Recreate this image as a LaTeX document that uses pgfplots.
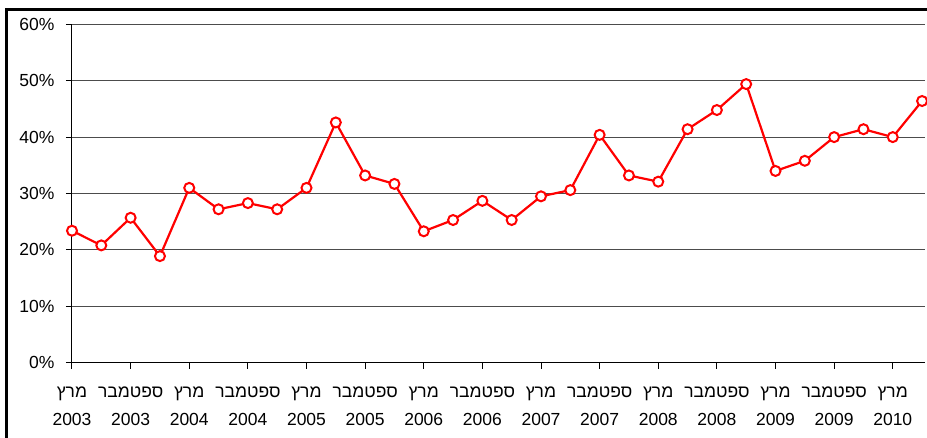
\documentclass[border=0pt]{standalone}
\usepackage{pgfplots}
\pgfplotsset{compat=1.18}
\usepackage{pgfplotstable}
\usepackage{fontspec}
\setmainfont{Liberation Sans}
\newfontfamily\hebfont[Script=Hebrew]{Liberation Sans}
\TeXXeTstate=1
\newcommand\heb[1]{{\hebfont\beginR #1\endR}}

% quarterly share, March 2003 -- June 2010
\pgfplotstableread{
q share
0 23.4
1 20.8
2 25.7
3 18.9
4 31.0
5 27.2
6 28.3
7 27.2
8 31.0
9 42.6
10 33.2
11 31.7
12 23.3
13 25.3
14 28.7
15 25.3
16 29.5
17 30.6
18 40.4
19 33.2
20 32.1
21 41.4
22 44.8
23 49.4
24 34.0
25 35.8
26 40.0
27 41.4
28 40.0
29 46.4
}\rates

\begin{document}
\begin{tikzpicture}
\begin{axis}[
  at={(0,0)}, anchor=south west,
  scale only axis, width=853bp, height=338.4bp,
  xmin=0, xmax=29.1, ymin=0, ymax=60,
  axis lines*=left,
  axis line style={black, line width=1bp},
  clip=false,
  xtick={0,2,...,28},
  xticklabels={
    {\heb{מרץ}\\2003},{\heb{ספטמבר}\\2003},
    {\heb{מרץ}\\2004},{\heb{ספטמבר}\\2004},
    {\heb{מרץ}\\2005},{\heb{ספטמבר}\\2005},
    {\heb{מרץ}\\2006},{\heb{ספטמבר}\\2006},
    {\heb{מרץ}\\2007},{\heb{ספטמבר}\\2007},
    {\heb{מרץ}\\2008},{\heb{ספטמבר}\\2008},
    {\heb{מרץ}\\2009},{\heb{ספטמבר}\\2009},
    {\heb{מרץ}\\2010}},
  ytick={0,10,...,60},
  yticklabels={0\%,10\%,20\%,30\%,40\%,50\%,60\%},
  tick align=outside,
  major tick length=6bp,
  tick style={black, line width=1bp},
  ymajorgrids,
  grid style={black!70, line width=0.9bp},
  tick label style={font=\fontsize{17.5bp}{28bp}\selectfont},
  xticklabel style={align=center, yshift=-15bp},
  yticklabel style={xshift=-8bp},
]
\addplot[red, line width=2.2bp, mark=*, mark size=5bp,
  mark options={fill=white, draw=red, line width=2bp}]
  table[x=q, y=share]{\rates};
\end{axis}
\draw[line width=3bp] (-65.5bp,-75.3bp) -- (-65.5bp,353.2bp) -- (855bp,353.2bp);
\pgfresetboundingbox
\useasboundingbox (-72bp,-75.3bp) rectangle (855bp,362.7bp);
\end{tikzpicture}
\end{document}
